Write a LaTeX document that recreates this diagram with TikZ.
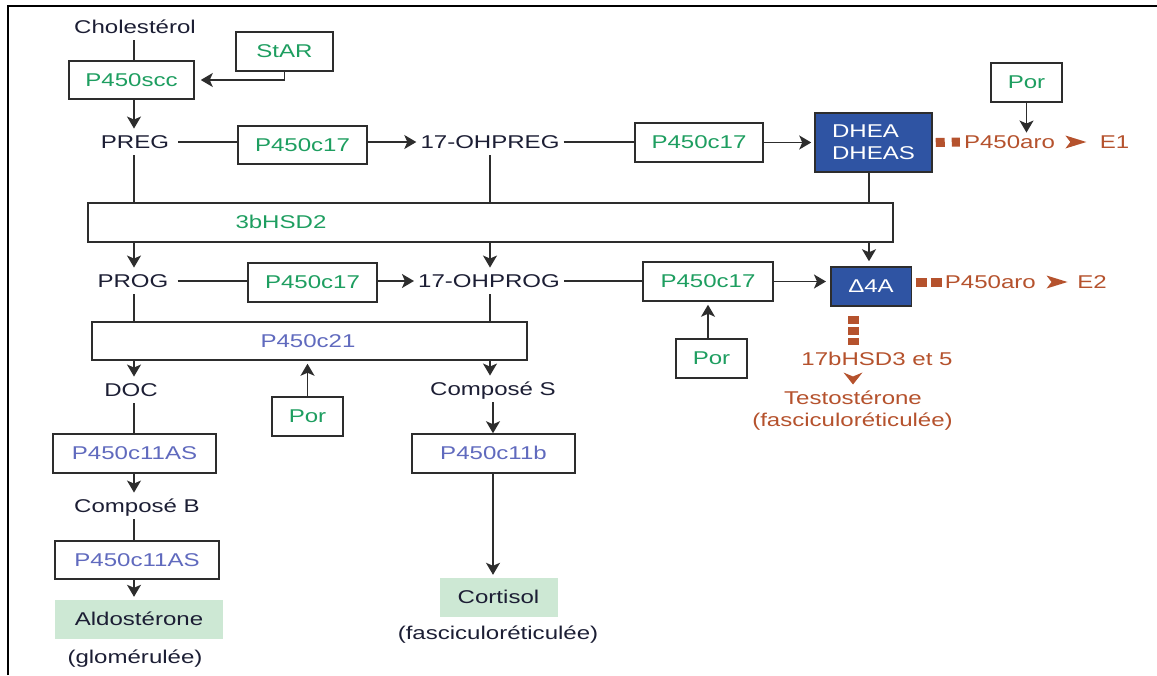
\documentclass[tikz,border=0pt]{standalone}
\usepackage{fontspec}
\setmainfont[FakeStretch=1.3]{Liberation Sans}
\usetikzlibrary{arrows.meta,calc}
\definecolor{ink}{RGB}{28,30,52}
\definecolor{grn}{RGB}{30,158,96}
\definecolor{vio}{RGB}{96,106,190}
\definecolor{rbr}{RGB}{181,82,45}
\definecolor{dblue}{RGB}{47,84,163}
\definecolor{lgrn}{RGB}{205,232,212}
\definecolor{bord}{RGB}{45,45,45}
\tikzset{
  base/.style={font=\fontsize{18.5}{22}\selectfont, text height=13.5pt, text depth=1pt},
  txt/.style={base, text=ink, inner xsep=9pt, inner ysep=6pt},
  rtxt/.style={base, text=rbr, inner sep=2pt},
  box/.style={base, draw=bord, line width=1.5pt, fill=white, minimum height=39pt, inner sep=0pt},
  gbox/.style={box, text=grn},
  vbox/.style={box, text=vio},
  bluebox/.style={font=\fontsize{18.5}{22}\selectfont, draw=bord, line width=1.5pt, fill=dblue, text=white, inner sep=0pt},
  prodbox/.style={base, fill=lgrn, text=ink, minimum height=39pt, inner sep=0pt},
  conn/.style={draw=bord, line width=1.5pt},
  arr/.style={conn, -{Stealth[length=12pt, width=14pt, inset=3pt]}},
  reddash/.style={draw=rbr, line width=9pt},
}
\begin{document}
\begin{tikzpicture}[x=1pt,y=-1pt]
\useasboundingbox (0,0) rectangle (1157,675);
% frame
\draw[line width=2.2pt, black] (8,675) -- (8,6) -- (1157,6);

% nodes
\node[txt] (chol) at (135,27) {Cholestérol};
\node[gbox, minimum width=97pt] (star) at (284.5,51.5) {StAR};
\node[gbox, minimum width=125pt, minimum height=38pt] (scc) at (131.5,80) {P450scc};
\node[txt] (preg) at (135,142) {PREG};
\node[gbox, minimum width=129pt, minimum height=38pt] (c17a) at (302.5,145) {P450c17};
\node[txt, inner xsep=4pt] (ohpreg) at (490,142) {17-OHPREG};
\node[gbox, minimum width=128pt] (c17b) at (699,142.5) {P450c17};
\node[bluebox, minimum width=117pt, minimum height=59pt, align=left] (dhea) at (873.5,142.5) {DHEA\\DHEAS};
\node[rtxt] (aro1) at (1009.5,142) {P450aro};
\node[rtxt] (e1) at (1114.5,142) {E1};
\node[gbox, minimum width=71pt] (por1) at (1026.5,82.5) {Por};

\node[gbox, inner ysep=0pt, minimum height=39pt, inner xsep=147.5pt, text width=510pt, align=left] (hsd) at (490.5,222.5) {3bHSD2};

\node[txt] (prog) at (133,281) {PROG};
\node[gbox, minimum width=129pt] (c17c) at (312.5,282.5) {P450c17};
\node[txt, inner xsep=4pt] (ohprog) at (489,281) {17-OHPROG};
\node[gbox, minimum width=130pt] (c17d) at (708,281.5) {P450c17};
\node[bluebox, minimum width=80.5pt, minimum height=39pt] (d4a) at (871,286.5) {Δ4A};
\node[rtxt] (aro2) at (990.3,282) {P450aro};
\node[rtxt] (e2) at (1092,282) {E2};
\node[gbox, minimum width=71pt] (por2) at (711.5,358.5) {Por};

\node[vbox, minimum height=38pt, inner xsep=168.5pt, text width=98pt, align=left] (c21) at (309.5,341) {P450c21};
\node[txt] (doc) at (131,390) {DOC};
\node[txt] (comps) at (493,389) {Composé S};
\node[gbox, minimum width=71pt] (por3) at (307.5,416.5) {Por};

\node[rtxt] (hsd17) at (877,359) {17bHSD3 et 5};
\node[rtxt] (testo) at (853,398) {Testostérone};
\node[rtxt] (fasc1) at (852.5,420) {(fasciculoréticulée)};

\node[vbox, minimum width=163pt] (c11a1) at (134.5,453.5) {P450c11AS};
\node[txt] (compb) at (137,506) {Composé B};
\node[vbox, minimum width=164pt, minimum height=38pt] (c11a2) at (137,560) {P450c11AS};
\node[prodbox, minimum width=168pt] (aldo) at (139,619.5) {Aldostérone};
\node[txt] (glom) at (135,657) {(glomérulée)};

\node[vbox, minimum width=163pt] (c11b) at (493.5,453.5) {P450c11b};
\node[prodbox, minimum width=118pt] (cort) at (498.5,597.5) {Cortisol};
\node[txt] (fasc2) at (498,633) {(fasciculoréticulée)};

% column coordinates
\coordinate (colA) at (134,0);
\coordinate (colB) at (490,0);
\coordinate (colC) at (869,0);
\coordinate (colD) at (493,0);

% top part
\draw[conn] (chol.south -| colA) -- (scc.north -| colA);
\draw[arr] (star.south) |- ([xshift=6pt]scc.east);
\draw[arr] (scc.south -| colA) -- (preg.north -| colA);
\draw[conn] (preg.east) -- (preg.east -| c17a.west);
\draw[arr] (preg.east -| c17a.east) -- (ohpreg.west);
\draw[conn] (ohpreg.east) -- (ohpreg.east -| c17b.west);
\draw[arr] (c17b.east) -- ([xshift=-3pt]dhea.west);
\draw[arr] (por1.south) -- (aro1.north -| por1.south);

% through 3bHSD2
\draw[conn] (preg.south -| colA) -- (hsd.north -| colA);
\draw[arr] (hsd.south -| colA) -- (prog.north -| colA);
\draw[conn] (ohpreg.south -| colB) -- (hsd.north -| colB);
\draw[arr] (hsd.south -| colB) -- (ohprog.north -| colB);
\draw[conn] (dhea.south -| colC) -- (hsd.north -| colC);
\draw[arr] (hsd.south -| colC) -- ([yshift=5pt]d4a.north -| colC);

% second row
\draw[conn] (prog.east) -- (prog.east -| c17c.west);
\draw[arr] (prog.east -| c17c.east) -- (ohprog.west);
\draw[conn] (ohprog.east) -- (ohprog.east -| c17d.west);
\draw[arr] (c17d.east) -- ([xshift=-4pt]c17d.east -| d4a.west);
\draw[arr] (por2.north -| c17d.south) -- ([yshift=-3pt]c17d.south);

% through P450c21
\draw[conn] (prog.south -| colA) -- (c21.north -| colA);
\draw[arr] (c21.south -| colA) -- (doc.north -| colA);
\draw[conn] (ohprog.south -| colB) -- (c21.north -| colB);
\draw[arr] (c21.south -| colB) -- (comps.north -| colB);
\draw[arr] (por3.north) -- ([yshift=-3pt]c21.south -| por3.north);

% bottom left column
\draw[conn] (doc.south -| colA) -- (c11a1.north -| colA);
\draw[arr] (c11a1.south -| colA) -- (compb.north -| colA);
\draw[conn] (compb.south -| colA) -- (c11a2.north -| colA);
\draw[arr] (c11a2.south -| colA) -- ([yshift=3pt]aldo.north -| colA);

% bottom middle column
\draw[arr] (comps.south -| colD) -- (c11b.north -| colD);
\draw[arr] (c11b.south -| colD) -- ([yshift=3pt]cort.north -| colD);

% red aromatase / 17bHSD links
\draw[reddash, dash pattern=on 9pt off 7pt] ([xshift=3pt]dhea.east) -- ([xshift=-2pt]aro1.west);
\draw[reddash, dash pattern=on 11pt off 4pt] ([xshift=3.5pt,yshift=4.5pt]d4a.east) -- ([xshift=-1pt]aro2.west);
\coordinate (rv1) at ([yshift=-9pt]d4a.south);
\coordinate (rv2) at ([yshift=5pt]hsd17.north);
\draw[draw=rbr, line width=11pt, dash pattern=on 8pt off 3pt] (rv1 -| testo) -- (rv2 -| testo);

% chevrons
\coordinate (ch1) at ($(aro1.east)!0.45!(e1.west)$);
\fill[rbr] (ch1) ++(-10,-6.5) -- ++(21,6.5) -- ++(-21,6.5) -- ++(5,-6.5) -- cycle;
\coordinate (ch2) at ($(aro2.east)!0.5!(e2.west)$);
\fill[rbr] (ch2) ++(-10,-6.5) -- ++(21,6.5) -- ++(-21,6.5) -- ++(5,-6.5) -- cycle;
\coordinate (ch3) at ($(hsd17.south -| testo)!0.5!(testo.north)$);
\fill[rbr] (ch3) ++(-9.5,-6) -- ++(9.5,12) -- ++(9.5,-12) -- ++(-9.5,4) -- cycle;
\end{tikzpicture}
\end{document}
